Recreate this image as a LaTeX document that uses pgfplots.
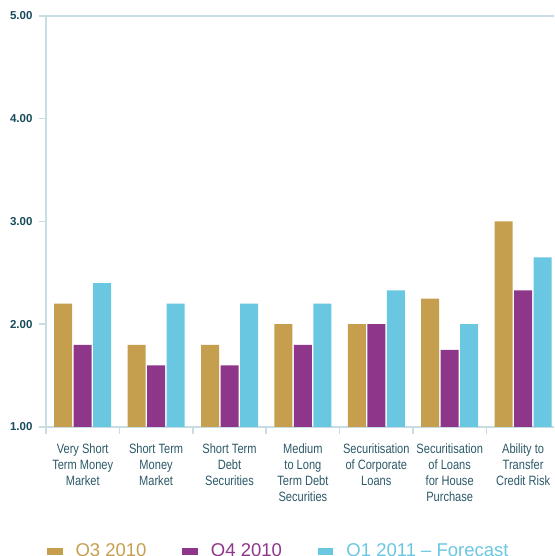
\documentclass[border=0pt]{standalone}
\usepackage{pgfplots}
\pgfplotsset{compat=1.18}
\usepackage{fontspec}
\setmainfont{Liberation Sans}
\newfontfamily\condfont[FakeStretch=0.82]{Liberation Sans}
\definecolor{gold}{HTML}{C69F4E}
\definecolor{plum}{HTML}{8E378A}
\definecolor{sky}{HTML}{69C7E1}
\definecolor{axisc}{HTML}{C8DDE3}
\definecolor{labc}{HTML}{2B5866}
\definecolor{ytc}{HTML}{174B5B}
\begin{document}
\begin{tikzpicture}[x=1pt,y=1pt]
\path[use as bounding box] (0,0) rectangle (554,556);
\clip (0,0) rectangle (554,556);
\begin{axis}[
    at={(46pt,129pt)}, anchor=south west,
    scale only axis, width=513.8pt, height=411pt,
    xmin=-0.5, xmax=6.5, ymin=1, ymax=5,
    ybar=1.5pt, bar width=18pt,
    axis lines*=left,
    axis line style={-, draw=axisc, line width=1.5pt},
    tick style={draw=axisc, line width=1.5pt},
    tick align=outside,
    major tick length=7pt,
    ytick={1,2,3,4,5},
    yticklabel={\pgfmathprintnumber[fixed,fixed zerofill,precision=2]{\tick}},
    /pgf/number format/assume math mode=true,
    y tick label style={font=\bfseries\fontsize{11.5}{12}\selectfont, text=ytc, xshift=-3pt},
    extra y ticks={5}, extra y tick labels={},
    extra y tick style={grid=major, major grid style={draw=axisc, line width=1.5pt}},
    xtick={-0.5,0.5,1.5,2.5,3.5,4.5,5.5,6.5},
    x tick label as interval,
    xticklabels={{Very Short\\Term Money\\Market},
        {Short Term\\Money\\Market},
        {Short Term\\Debt\\Securities},
        {Medium\\to Long\\Term Debt\\Securities},
        {Securitisation\\of Corporate\\Loans},
        {Securitisation\\of Loans\\for House\\Purchase},
        {Ability to\\Transfer\\Credit Risk}},
    x tick label style={font=\condfont\fontsize{13.5}{16}\selectfont, text=labc, align=center, anchor=north, yshift=-6pt},
    legend columns=3,
    legend style={at={(axis description cs:0.00195,-0.302)}, anchor=west, draw=none, fill=none,
        inner sep=0pt, outer sep=0pt, nodes={inner sep=0pt},
        font=\fontsize{18.5}{20}\selectfont,
        /tikz/every odd column/.append style={column sep=13pt},
        /tikz/every even column/.append style={column sep=36pt}},
    legend image code/.code={\path[#1,draw=none] (0pt,-3.5pt) rectangle (15.5pt,3.5pt);},
]
\addplot[fill=gold, draw=none] coordinates {(0,2.20) (1,1.80) (2,1.80) (3,2.00) (4,2.00) (5,2.25) (6,3.00)};
\addlegendentry{\textcolor{gold}{Q3 2010}}
\addplot[fill=plum, draw=none] coordinates {(0,1.80) (1,1.60) (2,1.60) (3,1.80) (4,2.00) (5,1.75) (6,2.33)};
\addlegendentry{\textcolor{plum}{Q4 2010}}
\addplot[fill=sky, draw=none] coordinates {(0,2.40) (1,2.20) (2,2.20) (3,2.20) (4,2.33) (5,2.00) (6,2.65)};
\addlegendentry{\textcolor{sky}{Q1 2011 – Forecast}}
\end{axis}
\end{tikzpicture}
\end{document}
